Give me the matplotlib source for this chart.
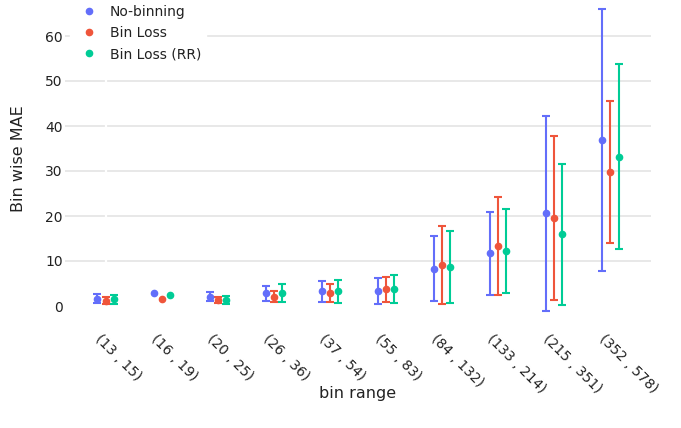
import numpy as np
import matplotlib
matplotlib.use("Agg")
import matplotlib.pyplot as plt
from matplotlib.lines import Line2D
from matplotlib.transforms import ScaledTranslation

# bins on the x axis
bins = ["(13 , 15)", "(16 , 19)", "(20 , 25)", "(26 , 36)", "(37 , 54)",
        "(55 , 83)", "(84 , 132)", "(133 , 214)", "(215 , 351)", "(352 , 578)"]

# mean bin-wise MAE and its spread (nan = no error bar drawn)
no_binning = [1.6, 3.0, 2.1, 2.8, 3.25, 3.4, 8.3, 11.7, 20.6, 36.9]
no_binning_err = [1.0, np.nan, 1.0, 1.6, 2.4, 2.9, 7.2, 9.3, 21.6, 29.1]

bin_loss = [1.2, 1.45, 1.3, 2.1, 2.85, 3.7, 9.05, 13.3, 19.55, 29.8]
bin_loss_err = [0.85, np.nan, 0.7, 1.25, 2.05, 2.85, 8.65, 10.85, 18.25, 15.75]

bin_loss_rr = [1.5, 2.4, 1.3, 2.9, 3.3, 3.8, 8.7, 12.2, 15.9, 33.2]
bin_loss_rr_err = [0.95, np.nan, 0.85, 2.05, 2.55, 3.2, 7.95, 9.4, 15.6, 20.5]

series = [
    ("No-binning", no_binning, no_binning_err, "#636efa", -0.15),
    ("Bin Loss", bin_loss, bin_loss_err, "#EF553B", 0.0),
    ("Bin Loss (RR)", bin_loss_rr, bin_loss_rr_err, "#00cc96", 0.15),
]

text_color = "#222222"
plt.rcParams["font.family"] = ["DejaVu Sans"]

fig = plt.figure(figsize=(6.81, 4.28), dpi=100)
ax = fig.add_axes([65 / 681, 1 - 315 / 428, 586 / 681, 312.75 / 428])

x = np.arange(len(bins))
for name, vals, errs, color, off in series:
    ax.errorbar(x + off, vals, yerr=errs, fmt="o", color=color, ecolor=color,
                markersize=4.5, elinewidth=1.5, capsize=3, capthick=1.5,
                zorder=3)

# grid (the zero line is white in the source, so it disappears)
ax.set_axisbelow(True)
ax.set_yticks([0, 10, 20, 30, 40, 50, 60])
ax.grid(axis="y", color="#e2e2e2", linewidth=1.1)
ax.get_ygridlines()[0].set_visible(False)
ax.axvline(0, color="white", linewidth=1.6, zorder=1)

ax.set_xlim(-0.73, 9.73)
ax.set_ylim(-2.0, 67.5)

for s in ax.spines.values():
    s.set_visible(False)

ax.set_xticks(x)
ax.set_xticklabels(bins, rotation=-45, ha="left", va="center",
                   rotation_mode="anchor")
ax.tick_params(axis="x", length=0, pad=16, labelsize=10, labelcolor=text_color)
ax.tick_params(axis="y", length=0, pad=1.5, labelsize=10, labelcolor=text_color)
shift = ScaledTranslation(-9 / 100, 0, fig.dpi_scale_trans)
for lab in ax.get_xticklabels():
    lab.set_transform(lab.get_transform() + shift)

ax.set_ylabel("Bin wise MAE", fontsize=11.5, color=text_color)
ax.yaxis.set_label_coords(-0.067, 0.5)
ax.set_xlabel("bin range", fontsize=11.5, color=text_color, va="center")
ax.xaxis.set_label_coords(0.5, -0.25)

handles = [Line2D([], [], marker="o", linestyle="none", color=c,
                  markersize=4.5, label=n) for n, _, _, c, _ in series]
leg = fig.legend(handles=handles, loc="upper left",
                 bbox_to_anchor=(70 / 681, 1.0), fontsize=10,
                 frameon=True, fancybox=False, borderaxespad=0,
                 borderpad=0.35, handlelength=1.98, handletextpad=0.55,
                 labelspacing=0.51)
leg.get_frame().set_facecolor("white")
leg.get_frame().set_edgecolor("white")
leg.get_frame().set_alpha(1.0)
for t in leg.get_texts():
    t.set_color(text_color)

fig.savefig("out.png", dpi=100)
